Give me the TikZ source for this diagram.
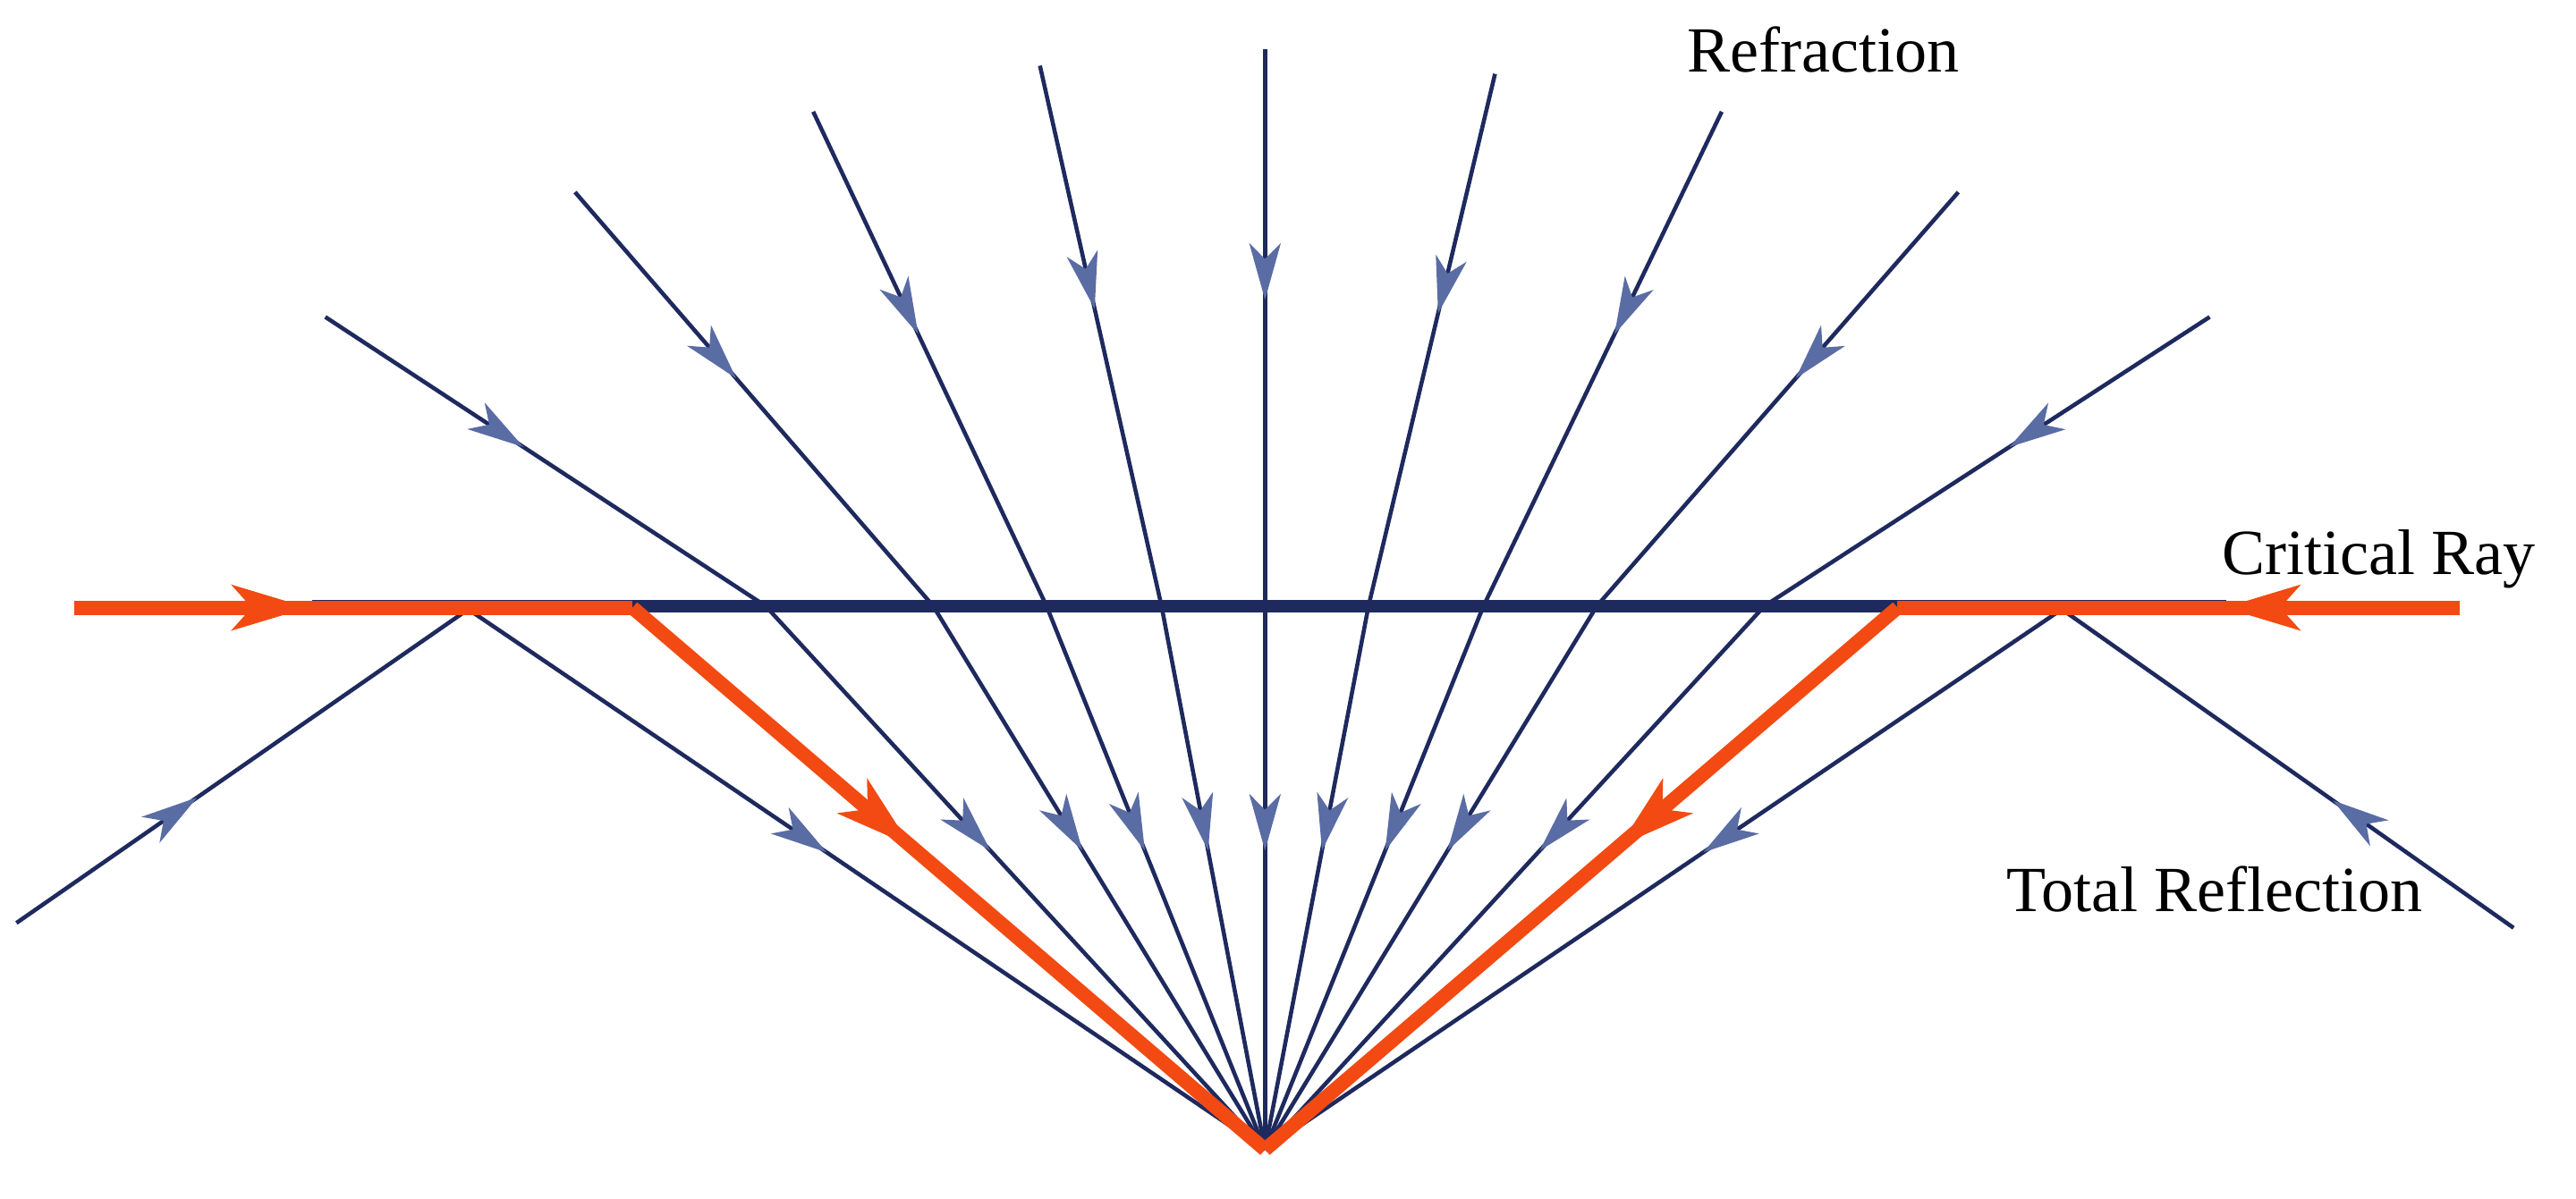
\documentclass[tikz,border=0pt]{standalone}
\usepackage{fontspec}
\setmainfont{Liberation Serif}
\usetikzlibrary{arrows.meta,decorations.markings}
\definecolor{navy}{HTML}{1E2A5E}
\definecolor{ablue}{HTML}{5A6CA4}
\definecolor{ora}{HTML}{F24A12}
\tikzset{
 ray/.style={draw=navy,line width=1.3pt,postaction={decorate},decoration={markings,mark=at position #1 with {\arrow{Stealth[length=18pt,width=10pt,inset=5pt,color=ablue]}}}},
 ray/.default=0.45,
 crit/.style={draw=ora,line width=4.5pt,postaction={decorate},decoration={markings,mark=at position #1 with {\arrow{Stealth[length=24pt,width=14pt,inset=6pt,color=ora]}}}},
 lab/.style={font=\fontsize{20.5}{24}\selectfont,anchor=base}
}
\begin{document}
\begin{tikzpicture}[x=0.018367cm,y=-0.018367cm]
\useasboundingbox (0,0) rectangle (1568,730);
\coordinate (F) at (770,700);
% interface
\draw[navy,line width=4pt] (190,369) -- (1355,369);
% refraction rays
\foreach \sx/\sy/\ix [count=\i] in {198/193/466,350/117/568,495/68/637,633/40/707,770/30/770,910/45/833,1048/68/903,1192/117/972,1345/193/1074}{
  \coordinate (s\i) at (\sx,\sy);
  \coordinate (i\i) at (\ix,369);
  \draw[ray] (s\i) -- (i\i);
  \draw[ray] (i\i) -- (F);
}
% total reflection
\coordinate (tl0) at (10,562); \coordinate (tl1) at (285,371);
\coordinate (tr0) at (1530,565); \coordinate (tr1) at (1255,371);
\draw[ray=0.4] (tl0) -- (tl1); \draw[ray] (tl1) -- (F);
\draw[ray=0.4] (tr0) -- (tr1); \draw[ray] (tr1) -- (F);
% critical rays
\coordinate (cl0) at (45,370); \coordinate (cl1) at (385,370);
\coordinate (cr0) at (1497,370); \coordinate (cr1) at (1155,370);
\draw[crit=0.42] (cl0) -- (cl1); \draw[crit=0.44] (cl1) -- (F);
\draw[crit=0.42] (cr0) -- (cr1); \draw[crit=0.44] (cr1) -- (F);
% labels
\node[lab] (t1) at (1110,44) {Refraction};
\node[lab] (t2) at (1448,350) {Critical Ray};
\node[lab] (t3) at (1348,555) {Total Reflection};
\end{tikzpicture}
\end{document}
